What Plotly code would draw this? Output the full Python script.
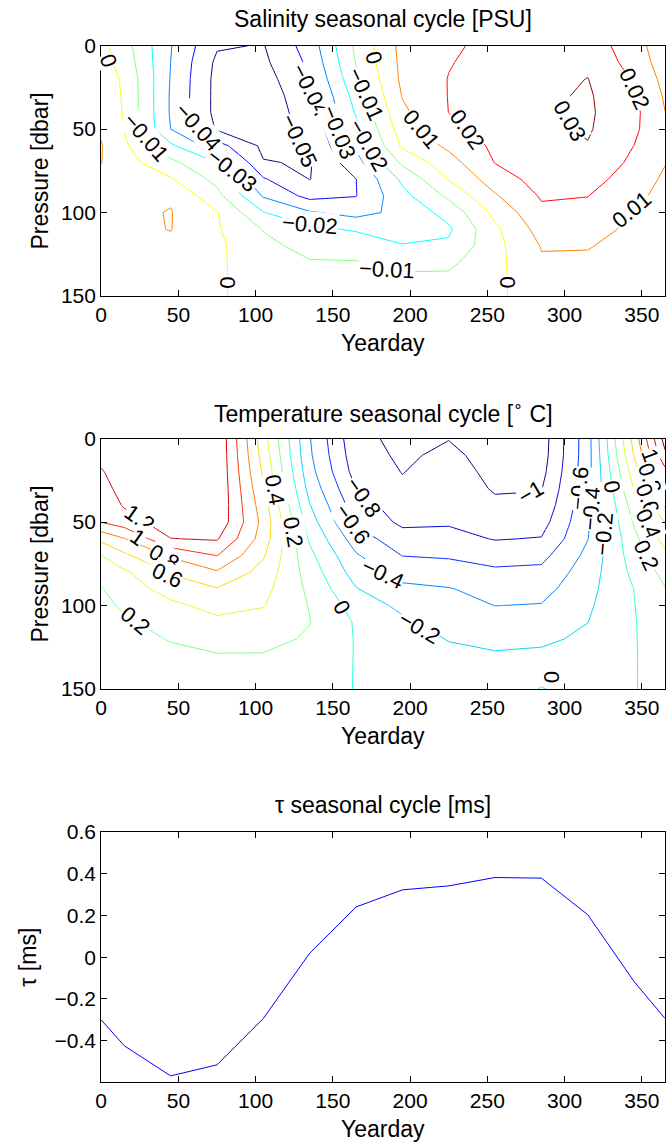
import plotly.graph_objects as go

FONT = "Liberation Sans, Arial, Helvetica, sans-serif"

# ---------------- data ----------------
yeardays = [0, 15, 45, 75, 105, 135, 165, 195, 225, 255, 285, 315, 345, 365]
pressure = [0, 10, 20, 30, 40, 50, 60, 70, 80, 90, 100, 110, 120, 130, 140, 150]

# Salinity seasonal-cycle profiles [PSU], one list per yearday (top -> bottom)
sal_day000 = [0.003, 0.004, 0.005, 0.006, 0.007, 0.009, 0.0105, 0.0102, 0.008, 0.007, 0.007, 0.006, 0.006, 0.006, 0.006, 0.006]
sal_day015 = [-0.006, -0.004, -0.0015, -0.001, -0.0008, -0.0005, 0.002, 0.004, 0.006, 0.007, 0.008, 0.0075, 0.007, 0.0065, 0.0065, 0.0065]
sal_day045 = [-0.0295, -0.030, -0.0305, -0.031, -0.031, -0.030, -0.018, -0.0075, 0.001, 0.009, 0.0104, 0.0103, 0.008, 0.007, 0.0065, 0.0065]
sal_day075 = [-0.049, -0.052, -0.053, -0.053, -0.053, -0.051, -0.036, -0.020, -0.013, -0.007, 0.0005, 0.001, 0.002, 0.002, 0.002, 0.002]
sal_day105 = [-0.0505, -0.052, -0.054, -0.055, -0.055, -0.054, -0.052, -0.0495, -0.039, -0.031, -0.0195, -0.0105, -0.0075, -0.007, -0.0068, -0.0066]
sal_day135 = [-0.0355, -0.038, -0.041, -0.044, -0.046, -0.048, -0.0495, -0.0508, -0.0502, -0.043, -0.029, -0.018, -0.013, -0.0093, -0.009, -0.009]
sal_day165 = [-0.008, -0.0095, -0.012, -0.016, -0.019, -0.023, -0.028, -0.034, -0.0401, -0.0403, -0.0335, -0.021, -0.014, -0.0095, -0.008, -0.007]
sal_day195 = [0.013, 0.0125, 0.012, 0.0105, 0.008, 0.005, 0.0015, -0.008, -0.018, -0.023, -0.027, -0.024, -0.0195, -0.0125, -0.008, -0.006]
sal_day225 = [0.0185, 0.0195, 0.0203, 0.0203, 0.0201, 0.017, 0.012, 0.006, 0.0005, -0.008, -0.0165, -0.0215, -0.0185, -0.012, -0.008, -0.006]
sal_day255 = [0.0226, 0.0235, 0.0245, 0.025, 0.025, 0.024, 0.022, 0.0203, 0.015, 0.009, 0.0025, -0.002, -0.003, -0.003, -0.003, -0.003]
sal_day285 = [0.025, 0.026, 0.027, 0.028, 0.028, 0.028, 0.027, 0.026, 0.024, 0.021, 0.018, 0.014, 0.0105, 0.009, 0.0085, 0.008]
sal_day315 = [0.0255, 0.028, 0.0302, 0.0312, 0.0315, 0.031, 0.0295, 0.027, 0.024, 0.0202, 0.017, 0.0135, 0.0105, 0.0085, 0.008, 0.008]
sal_day345 = [0.0145, 0.016, 0.019, 0.0215, 0.0225, 0.022, 0.0199, 0.018, 0.015, 0.012, 0.0095, 0.008, 0.007, 0.0065, 0.0065, 0.0065]
sal_day365 = [0.0033, 0.005, 0.007, 0.0088, 0.0101, 0.0107, 0.011, 0.0104, 0.0085, 0.0075, 0.007, 0.0065, 0.006, 0.006, 0.006, 0.006]

# Temperature seasonal-cycle profiles [deg C], one list per yearday (top -> bottom)
tem_day000 = [1.33, 1.26, 1.18, 1.12, 1.06, 1.005, 0.65, 0.40, 0.27, 0.19, 0.15, 0.12, 0.10, 0.09, 0.08, 0.08]
tem_day015 = [1.35, 1.34, 1.32, 1.28, 1.22, 1.10, 0.79, 0.56, 0.37, 0.30, 0.23, 0.17, 0.14, 0.12, 0.11, 0.10]
tem_day045 = [1.37, 1.37, 1.37, 1.36, 1.35, 1.32, 1.195, 0.83, 0.62, 0.48, 0.36, 0.28, 0.21, 0.16, 0.13, 0.12]
tem_day075 = [1.38, 1.38, 1.38, 1.38, 1.37, 1.35, 1.22, 1.005, 0.78, 0.59, 0.46, 0.36, 0.26, 0.19, 0.15, 0.13]
tem_day105 = [0.48, 0.52, 0.57, 0.63, 0.69, 0.74, 0.71, 0.62, 0.53, 0.46, 0.41, 0.33, 0.25, 0.19, 0.15, 0.13]
tem_day135 = [-0.39, -0.37, -0.33, -0.27, -0.19, -0.11, -0.03, 0.05, 0.11, 0.16, 0.19, 0.205, 0.18, 0.15, 0.13, 0.12]
tem_day165 = [-0.95, -0.92, -0.88, -0.795, -0.71, -0.64, -0.50, -0.38, -0.29, -0.19, -0.08, -0.02, -0.012, -0.01, -0.01, -0.01]
tem_day195 = [-1.046, -1.03, -1.005, -0.97, -0.90, -0.84, -0.72, -0.605, -0.47, -0.36, -0.25, -0.16, -0.11, -0.08, -0.06, -0.05]
tem_day225 = [-1.005, -0.96, -0.92, -0.88, -0.85, -0.82, -0.74, -0.62, -0.52, -0.39, -0.33, -0.27, -0.21, -0.15, -0.12, -0.10]
tem_day255 = [-1.08, -1.07, -1.05, -1.02, -0.96, -0.88, -0.81, -0.69, -0.56, -0.47, -0.402, -0.33, -0.25, -0.18, -0.14, -0.12]
tem_day285 = [-1.10, -1.09, -1.06, -1.01, -0.95, -0.88, -0.79, -0.66, -0.55, -0.47, -0.39, -0.32, -0.24, -0.16, -0.07, 0.01]
tem_day315 = [-0.48, -0.48, -0.47, -0.46, -0.45, -0.43, -0.405, -0.35, -0.30, -0.26, -0.23, -0.202, -0.16, -0.12, -0.10, -0.09]
tem_day345 = [0.68, 0.61, 0.50, 0.41, 0.30, 0.22, 0.15, 0.10, 0.05, 0.003, -0.005, -0.01, -0.01, -0.01, -0.01, -0.01]
tem_day365 = [1.48, 1.36, 1.13, 1.005, 0.84, 0.605, 0.47, 0.36, 0.26, 0.19, 0.14, 0.11, 0.09, 0.08, 0.08, 0.08]

# tau seasonal cycle [ms]
tau_ms = [-0.30, -0.424, -0.568, -0.515, -0.293, 0.019, 0.240, 0.322, 0.341, 0.381, 0.378, 0.203, -0.117, -0.293]

xticks = [0, 50, 100, 150, 200, 250, 300, 350]
pticks = [0, 50, 100, 150]
tauticks = [-0.4, -0.2, 0, 0.2, 0.4, 0.6]

# contour label texts (inline labels as in the original figure)
sal_label_text = ["0", "−0.01", "−0.04", "−0.03", "−0.05", "−0.04", "−0.03", "−0.01", "−0.02", "0",
                  "0.01", "0.02", "0.03", "0.02", "0.01", "−0.02", "−0.01", "0", "0"]
tem_label_text = ["1.2", "1", "0.8", "0.6", "0.2", "0.4", "0.2", "0", "−0.8", "−0.6", "−0.4", "−0.2",
                  "−1", "−0.6", "−0.4", "0", "−0.2", "1", "0.8", "0.6", "0.4", "0.2", "0"]

# ---------------- layout constants (label placement: day, dbar, angle) ----------------
sal_label_pos = [(4.5, 9, 70), (29, 55, 49), (63, 49, 48), (85, 75, 38), (128, 57, 65),
                 (135.5, 27, 63), (154, 52, 68), (171.5, 29, 65), (173, 60, 60), (176.5, 7, 75),
                 (207.5, 50, 50), (237, 50, 55), (303, 45, 60), (345.5, 26, 65), (343.5, 98, -40),
                 (135, 107, 5), (185, 134, 3), (81.5, 142, 90), (263, 142, 90)]
tem_label_pos = [(25, 48, 35), (24, 59, 35), (41, 71, 30), (43, 82, 25), (22, 109, 40),
                 (112.5, 31, 80), (124.5, 56, 80), (156, 101, 60), (170, 35, 55), (162.5, 51, 55),
                 (182, 81, 25), (206, 113, 30), (278, 32, -30), (309.5, 30, -85), (317.5, 42, -85),
                 (331, 29, 80), (325.5, 57, -85), (355.5, 10, 70), (355, 24, 70), (353.5, 36, 70),
                 (354, 51, 65), (353, 70, 65), (292, 143, 90)]

# ---------------- build grids ----------------
sal_cols = [sal_day000, sal_day015, sal_day045, sal_day075, sal_day105, sal_day135, sal_day165,
            sal_day195, sal_day225, sal_day255, sal_day285, sal_day315, sal_day345, sal_day365]
tem_cols = [tem_day000, tem_day015, tem_day045, tem_day075, tem_day105, tem_day135, tem_day165,
            tem_day195, tem_day225, tem_day255, tem_day285, tem_day315, tem_day345, tem_day365]
sal_z = [list(r) for r in zip(*sal_cols)]
tem_z = [list(r) for r in zip(*tem_cols)]

jet = [[0.0, "rgb(0,0,128)"], [0.125, "rgb(0,0,255)"], [0.375, "rgb(0,255,255)"],
       [0.625, "rgb(255,255,0)"], [0.875, "rgb(255,0,0)"], [1.0, "rgb(128,0,0)"]]

fig = go.Figure()

fig.add_trace(go.Contour(
    x=yeardays, y=pressure, z=sal_z, xaxis="x", yaxis="y",
    autocontour=False,
    contours=dict(start=-0.05, end=0.03, size=0.01, coloring="lines", showlabels=False),
    colorscale=jet, showscale=False, line=dict(width=1, smoothing=0), hoverinfo="skip"))

fig.add_trace(go.Contour(
    x=yeardays, y=pressure, z=tem_z, xaxis="x2", yaxis="y2",
    autocontour=False,
    contours=dict(start=-1.0, end=1.4, size=0.2, coloring="lines", showlabels=False),
    colorscale=jet, showscale=False, line=dict(width=1, smoothing=0), hoverinfo="skip"))

fig.add_trace(go.Scatter(x=yeardays, y=tau_ms, mode="lines", xaxis="x3", yaxis="y3",
                         line=dict(color="rgb(0,0,255)", width=1), hoverinfo="skip", showlegend=False))

W, H = 667, 1143
xl, xr = 96, 665
# target pixel positions of the three axes boxes (top, bottom)
boxes = [(45.7, 295.7), (438.3, 688.3), (831.0, 1081.0)]
# the captured page is slightly squeezed vertically; map target px -> figure px
SQ_A, SQ_B = 12.0, 0.979


def py(px):
    return 1 - ((px - SQ_A) / SQ_B) / H


def common():
    return dict(showline=True, linecolor="black", linewidth=1, mirror="ticks", ticks="inside",
                ticklen=6, tickcolor="black", tickwidth=1, showgrid=False, zeroline=False,
                tickfont=dict(family=FONT, size=21, color="black"))


layout = dict(width=W, height=H, margin=dict(l=0, r=0, t=0, b=0), autosize=False,
              paper_bgcolor="white", plot_bgcolor="white", showlegend=False,
              font=dict(family=FONT, size=21, color="black"))
xdom = [xl / W, xr / W]
for i, (top, bot) in enumerate(boxes):
    sfx = "" if i == 0 else str(i + 1)
    ydom = [py(bot), py(top)]
    xa = common()
    xa.update(domain=xdom, range=[0, 365], tickvals=xticks, anchor="y" + sfx)
    ya = common()
    if i < 2:
        ya.update(domain=ydom, range=[150, 0], tickvals=pticks, anchor="x" + sfx)
    else:
        ya.update(domain=ydom, range=[-0.597, 0.6], tickvals=tauticks, anchor="x" + sfx)
    layout["xaxis" + sfx] = xa
    layout["yaxis" + sfx] = ya

titles = ["Salinity seasonal cycle [PSU]", "Temperature seasonal cycle [<sup>∘</sup> C]", "τ seasonal cycle [ms]"]
ylabels = ["Pressure [dbar]", "Pressure [dbar]", "τ [ms]"]
ylab_x = [34, 34, 22]
ann = []
for i, (top, bot) in enumerate(boxes):
    cx = (xl + xr) / 2 / W
    ann.append(dict(text=titles[i], x=cx, y=py(top - 26.5), xref="paper", yref="paper",
                    showarrow=False, xanchor="center", yanchor="middle",
                    font=dict(family=FONT, size=23, color="black")))
    ann.append(dict(text="Yearday", x=cx, y=py(bot + 47), xref="paper", yref="paper",
                    showarrow=False, xanchor="center", yanchor="middle",
                    font=dict(family=FONT, size=23, color="black")))
    ann.append(dict(text=ylabels[i], x=ylab_x[i] / W, y=py((top + bot) / 2), xref="paper", yref="paper",
                    showarrow=False, xanchor="center", yanchor="middle", textangle=-90,
                    font=dict(family=FONT, size=23, color="black")))

for txt, (d, p, ang) in zip(sal_label_text, sal_label_pos):
    ann.append(dict(text=txt, x=d, y=p, xref="x", yref="y", showarrow=False, textangle=ang,
                    bgcolor="white", borderpad=0, font=dict(family=FONT, size=22, color="black")))
for txt, (d, p, ang) in zip(tem_label_text, tem_label_pos):
    ann.append(dict(text=txt, x=d, y=p, xref="x2", yref="y2", showarrow=False, textangle=ang,
                    bgcolor="white", borderpad=0, font=dict(family=FONT, size=22, color="black")))
layout["annotations"] = ann

fig.update_layout(**layout)
fig.write_html("out.html", config={"responsive": False},
               post_script="document.body.style.margin='0';document.body.style.overflow='hidden';")
